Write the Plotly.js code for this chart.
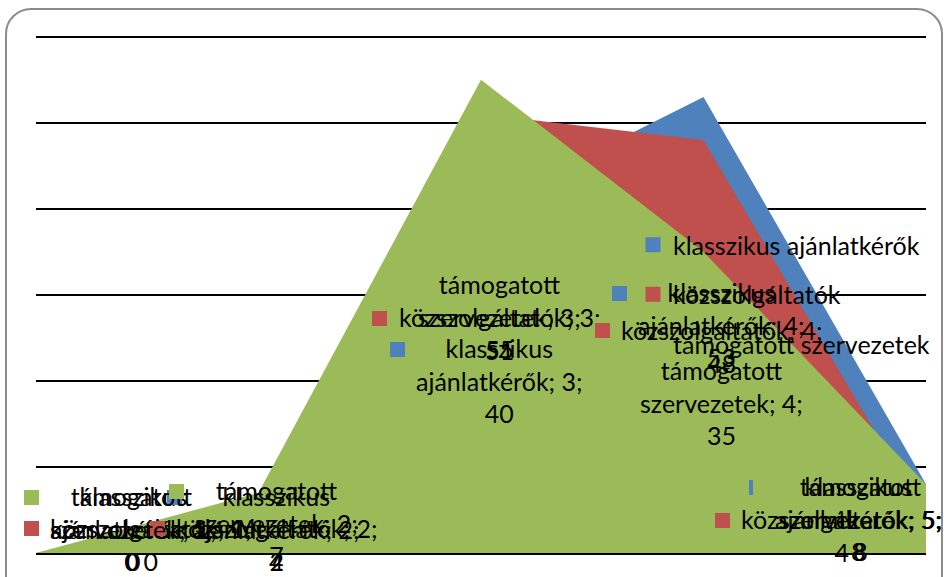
<!DOCTYPE html>
<html><head><meta charset="utf-8">
<script src="https://cdn.plot.ly/plotly-3.0.1.min.js"></script>
<style>
html,body{margin:0;padding:0;background:#fff;}
#wrap{position:relative;width:946px;height:577px;overflow:hidden;background:#fff;}
#frame{position:absolute;left:5px;top:8px;width:938px;height:640px;border:2px solid #8c8c8c;border-radius:26px;box-sizing:border-box;}
#chart{position:absolute;left:0;top:0;width:946px;height:577px;}
</style></head><body>
<div id="wrap"><div id="frame"></div><div id="chart"></div></div>
<script>
// ---- data ----
const categories = [1, 2, 3, 4, 5];
const seriesNames = ['klasszikus ajánlatkérők', 'közszolgáltatók', 'támogatott szervezetek'];
const klasszikusAjanlatkerok = [0, 4, 40, 53, 8];
const kozszolgaltatok = [0, 2, 51, 48, 4];
const tamogatottSzervezetek = [0, 7, 55, 35, 8];
const seriesValues = [klasszikusAjanlatkerok, kozszolgaltatok, tamogatottSzervezetek];
const colors = ['#4F81BD', '#C0504D', '#9BBB59'];

// ---- style / layout constants ----
const FONT = 'Lato', FS = 25, LH = 31, KEY = 15, GAP = 11, BOXSHIFT = 5;
const W = 946, H = 577;
const M = {l: 36, r: 19, t: 35, b: 24};
const yRange = [0, 60.2];
const plotL = M.l, plotR = W - M.r, plotT = M.t, plotB = H - M.b;
const clampL = 24, clampR = 943, clampB = 575;

function px(c) { return plotL + (c - categories[0]) / (categories[categories.length - 1] - categories[0]) * (plotR - plotL); }
function py(v) { return plotB - (v - yRange[0]) / (yRange[1] - yRange[0]) * (plotB - plotT); }

const ctx = document.createElement('canvas').getContext('2d');
ctx.font = FS + 'px ' + FONT;
function tw(s) { return ctx.measureText(s).width; }

function labelLines(name, c, v) {
  const w = name.split(' ');
  if (w.length > 1) return [w.slice(0, -1).join(' '), w[w.length - 1] + '; ' + c + ';', String(v)];
  return [name + '; ' + c + ';', String(v)];
}

const traces = [];
seriesNames.forEach((name, s) => {
  traces.push({
    type: 'scatter', x: categories, y: seriesValues[s], mode: 'lines',
    line: {width: 0, color: colors[s]}, fill: 'tozeroy', fillcolor: colors[s],
    showlegend: false, hoverinfo: 'skip'
  });
});
seriesNames.forEach((name, s) => {
  traces.push({
    type: 'scatter', x: [null], y: [null], mode: 'markers', name: name,
    legendgroup: 'g' + s,
    marker: {symbol: 'square', size: KEY, color: colors[s]}, showlegend: true
  });
});

const annotations = [];
seriesNames.forEach((name, s) => {
  categories.forEach((c, i) => {
    const v = seriesValues[s][i];
    const lines = labelLines(name, c, v);
    const textW = Math.max(...lines.map(tw));
    const boxW = KEY + GAP + textW, boxH = lines.length * LH;
    const cx = px(c), cy = py(v / 2);
    let left = cx + BOXSHIFT - boxW / 2;
    left = Math.max(clampL, Math.min(left, clampR - boxW));
    let top = cy - boxH / 2;
    top = Math.min(top, clampB - boxH);
    const textCx = left + KEY + GAP + textW / 2, textCy = top + boxH / 2;
    // legend key of the data label
    annotations.push({
      x: c, y: v / 2, xref: 'x', yref: 'y', showarrow: false, text: ' ',
      xanchor: 'left', yanchor: 'top', width: KEY, height: KEY,
      xshift: left - cx, yshift: cy - (top + LH / 2 - KEY / 2),
      bgcolor: colors[s], borderpad: 0, borderwidth: 0, font: {size: 8}
    });
    annotations.push({
      x: c, y: v / 2, xref: 'x', yref: 'y', showarrow: false,
      text: lines.join('<br>'), align: 'center',
      xanchor: 'center', yanchor: 'middle',
      xshift: textCx - cx, yshift: cy - textCy,
      font: {family: FONT, size: FS, color: '#000'}
    });
  });
});

const layout = {
  width: W, height: H,
  margin: {l: M.l, r: M.r, t: M.t, b: M.b, pad: 0},
  paper_bgcolor: 'rgba(0,0,0,0)', plot_bgcolor: 'rgba(0,0,0,0)',
  font: {family: FONT, size: FS, color: '#000'},
  xaxis: {range: [1, 5], showgrid: false, zeroline: false, showline: true, linecolor: '#000', linewidth: 1.5,
          showticklabels: false, ticks: '', fixedrange: true},
  yaxis: {range: yRange, tick0: 0, dtick: 10, showgrid: true, gridcolor: '#000', gridwidth: 2, zeroline: false,
          showline: false, showticklabels: false, ticks: '', fixedrange: true},
  showlegend: true,
  legend: {x: (633 - plotL) / (plotR - plotL), y: (plotB - 222) / (plotB - plotT), xanchor: 'left', yanchor: 'top',
           bgcolor: 'rgba(0,0,0,0)', borderwidth: 0, font: {family: FONT, size: FS, color: '#000'},
           tracegroupgap: 14, traceorder: 'grouped'},
  annotations: annotations,
  hovermode: false
};
Plotly.newPlot('chart', traces, layout, {staticPlot: true, displayModeBar: false});
</script>
</body></html>
